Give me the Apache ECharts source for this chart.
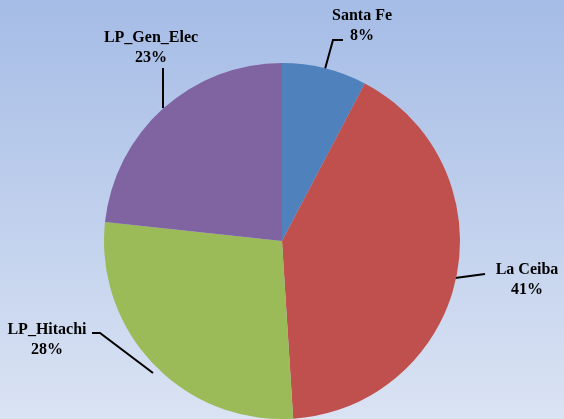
<!DOCTYPE html>
<html>
<head>
<meta charset="utf-8">
<script src="https://cdn.jsdelivr.net/npm/echarts@6/dist/echarts.min.js"></script>
<style>
html,body{margin:0;padding:0;}
#chart{width:564px;height:419px;}
</style>
</head>
<body>
<div id="chart"></div>
<script>
const categories = ['Santa Fe', 'La Ceiba', 'LP_Hitachi', 'LP_Gen_Elec'];
const values = [7.7, 41.3, 27.7, 23.3];
const colors = ['#4f81bd', '#c0504d', '#9bbb59', '#8064a2'];

// label placement (layout only)
const labelPos = [
  {x: 362, y: 26, line: [[325, 69], [333, 40], [343, 40]]},
  {x: 527, y: 280, line: [[455, 278], [470, 276], [485, 274]]},
  {x: 47, y: 340, line: [[153, 373], [100, 333], [92, 333]]},
  {x: 151, y: 48, line: [[163, 108], [163, 80], [163, 68]]}
];

const chart = echarts.init(document.getElementById('chart'));
chart.setOption({
  animation: false,
  backgroundColor: {
    type: 'linear', x: 0, y: 0, x2: 0, y2: 1,
    colorStops: [{offset: 0, color: '#a5bce6'}, {offset: 1, color: '#dae3f3'}]
  },
  series: [{
    type: 'pie',
    center: [282, 241],
    radius: 178,
    startAngle: 90,
    clockwise: true,
    color: colors,
    data: categories.map((c, i) => ({name: c, value: values[i]})),
    itemStyle: {borderWidth: 0},
    label: {
      show: true,
      position: 'outside',
      overflow: 'none',
      formatter: p => p.name + '\n' + Math.round(p.percent) + '%',
      fontFamily: 'Liberation Serif',
      fontWeight: 'bold',
      fontSize: 16,
      lineHeight: 20,
      color: '#000',
      align: 'center'
    },
    labelLine: {
      show: true,
      lineStyle: {color: '#000', width: 2}
    },
    labelLayout: function (params) {
      const p = labelPos[params.dataIndex];
      return {
        x: p.x, y: p.y, align: 'center', verticalAlign: 'middle',
        labelLinePoints: p.line
      };
    }
  }]
});
</script>
</body>
</html>
